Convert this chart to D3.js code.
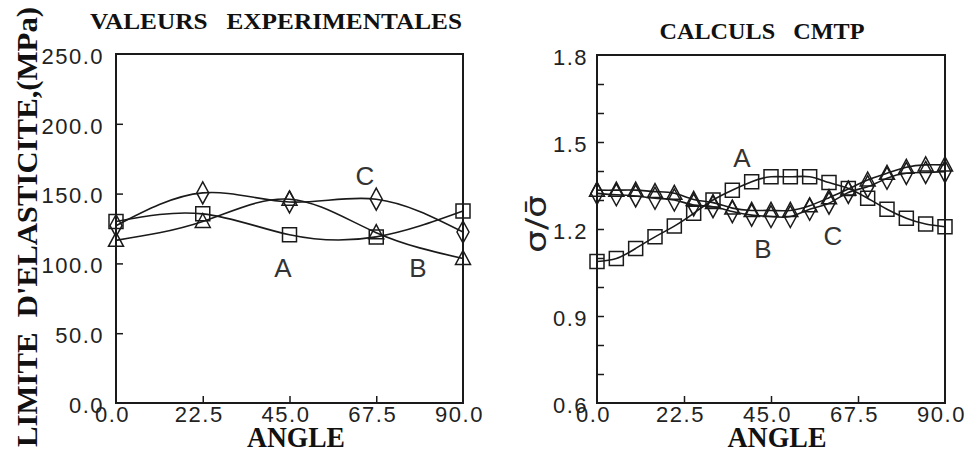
<!DOCTYPE html>
<html><head><meta charset="utf-8">
<script src="https://cdn.jsdelivr.net/npm/d3@7"></script>
<style>
html,body{margin:0;padding:0;background:#fff;}
svg{display:block;}
.tick text{font-family:"Liberation Sans",Arial,sans-serif;font-size:22px;letter-spacing:1.5px;fill:#222;}
.ttl{font-family:"Liberation Serif","Times New Roman",serif;font-weight:bold;fill:#111;white-space:pre;}
.lab{font-family:"Liberation Sans",Arial,sans-serif;font-size:26px;fill:#333;}
</style></head>
<body>
<svg id="c" width="972" height="454"></svg>
<script>
// ---- data ----
const angles5 = [0, 22.5, 45, 67.5, 90];
const expA = [130, 135.5, 120.5, 119, 137.5];   // squares
const expB = [116.5, 130, 146, 122, 103.5];     // triangles
const expC = [127, 150.5, 144, 146, 122.5];     // diamonds

const angles19 = [0,5,10,15,20,25,30,35,40,45,50,55,60,65,70,75,80,85,90];
const cmtpA = [1.088,1.098,1.133,1.173,1.210,1.254,1.300,1.334,1.363,1.380,1.380,1.380,1.360,1.340,1.306,1.268,1.237,1.217,1.208];
const cmtpB = [1.334,1.334,1.334,1.329,1.323,1.302,1.291,1.272,1.264,1.264,1.264,1.280,1.308,1.338,1.369,1.392,1.413,1.421,1.421];
const cmtpC = [1.323,1.318,1.314,1.306,1.300,1.283,1.277,1.260,1.248,1.243,1.243,1.268,1.289,1.326,1.346,1.375,1.392,1.395,1.398];

const xTickLabels = [0, 22.5, 45, 67.5, 90];
const xTickMarks = [22.5, 45, 67.5];
const yLeftLabels = [0, 50, 100, 150, 200, 250];
const yLeftMarks = [50, 100, 150, 200];
const yRightLabels = [0.6, 0.9, 1.2, 1.5, 1.8];
const yRightMarks = [0.7,0.8,0.9,1.0,1.1,1.2,1.3,1.4,1.5,1.6,1.7];

const svg = d3.select("#c");
const ink = "#1a1a1a";

function sym(type, cx, cy) {
  if (type === "square") { const h = 7; return `M${cx-h},${cy-h}h${2*h}v${2*h}h${-2*h}Z`; }
  if (type === "tri") { const w = 7.5, h = 7; return `M${cx},${cy-h-1}L${cx+w},${cy+h-1}L${cx-w},${cy+h-1}Z`; }
  const w = 6, h = 11; return `M${cx},${cy-h}L${cx+w},${cy}L${cx},${cy+h}L${cx-w},${cy}Z`;
}

function panel(cfg) {
  const g = svg.append("g");
  const x = d3.scaleLinear().domain([0, 90]).range(cfg.xr);
  const y = d3.scaleLinear().domain(cfg.yd).range(cfg.yr);
  // frame
  g.append("rect").attr("x", x(0)).attr("y", y(cfg.yd[1]))
    .attr("width", x(90) - x(0)).attr("height", y(cfg.yd[0]) - y(cfg.yd[1]))
    .attr("fill", "none").attr("stroke", ink).attr("stroke-width", 2);
  // inner ticks
  const tl = g.append("g").attr("transform", `translate(${x(0)},0)`)
    .call(d3.axisLeft(y).tickValues(cfg.yMarks).tickSize(-7).tickFormat(""));
  tl.select(".domain").remove();
  tl.selectAll("line").attr("stroke", ink).attr("stroke-width", 1.5);
  const tb = g.append("g").attr("transform", `translate(0,${y(cfg.yd[0])})`)
    .call(d3.axisBottom(x).tickValues(xTickMarks).tickSize(-7).tickFormat(""));
  tb.select(".domain").remove();
  tb.selectAll("line").attr("stroke", ink).attr("stroke-width", 1.5);
  // labels
  const ly = g.append("g").attr("transform", `translate(${x(0)},0)`)
    .call(d3.axisLeft(y).tickValues(cfg.yLabels).tickSize(0).tickPadding(cfg.yPad).tickFormat(d3.format(".1f")));
  ly.select(".domain").remove();
  ly.selectAll("text").attr("dy", "0.42em").style("font-family", null);
  ly.attr("font-family", null).attr("font-size", null);
  const lx = g.append("g").attr("transform", `translate(0,${y(cfg.yd[0])})`)
    .call(d3.axisBottom(x).tickValues(xTickLabels).tickSize(0).tickPadding(3).tickFormat(d3.format(".1f")));
  lx.select(".domain").remove();
  lx.selectAll("text").attr("dx", -4);
  lx.attr("font-family", null).attr("font-size", null);
  // series
  const line = d3.line().x((d, i) => x(cfg.ang[i])).y(d => y(d)).curve(d3.curveNatural);
  cfg.series.forEach(s => {
    g.append("path").attr("d", line(s.v)).attr("fill", "none")
      .attr("stroke", ink).attr("stroke-width", 1.6);
    g.append("g").selectAll("path").data(s.v).join("path")
      .attr("d", (d, i) => sym(s.type, x(cfg.ang[i]), y(d)))
      .attr("fill", "none").attr("stroke", ink).attr("stroke-width", 1.5);
  });
  return g;
}

panel({ xr: [116, 463], yd: [0, 250], yr: [403, 54], yMarks: yLeftMarks, yLabels: yLeftLabels, yPad: 12,
  ang: angles5,
  series: [{ v: expA, type: "square" }, { v: expB, type: "tri" }, { v: expC, type: "diamond" }] });
panel({ xr: [597, 945], yd: [0.6, 1.8], yr: [403, 55], yMarks: yRightMarks, yLabels: yRightLabels, yPad: 9,
  ang: angles19,
  series: [{ v: cmtpA, type: "square" }, { v: cmtpB, type: "tri" }, { v: cmtpC, type: "diamond" }] });

// titles
svg.append("text").attr("class", "ttl").attr("x", 276).attr("y", 29).attr("text-anchor", "middle")
  .attr("font-size", 24).attr("textLength", 372).attr("lengthAdjust", "spacingAndGlyphs")
  .text("VALEURS   EXPERIMENTALES");
svg.append("text").attr("class", "ttl").attr("x", 762).attr("y", 39).attr("text-anchor", "middle")
  .attr("font-size", 24).attr("textLength", 205).attr("lengthAdjust", "spacingAndGlyphs")
  .text("CALCULS   CMTP");
svg.append("text").attr("class", "ttl").attr("x", 296).attr("y", 447).attr("text-anchor", "middle")
  .attr("font-size", 29).attr("textLength", 98).attr("lengthAdjust", "spacingAndGlyphs").text("ANGLE");
svg.append("text").attr("class", "ttl").attr("x", 777).attr("y", 447).attr("text-anchor", "middle")
  .attr("font-size", 29).attr("textLength", 99).attr("lengthAdjust", "spacingAndGlyphs").text("ANGLE");
svg.append("text").attr("class", "ttl").attr("transform", "translate(37,227) rotate(-90)")
  .attr("text-anchor", "middle").attr("font-size", 30).attr("textLength", 440).attr("lengthAdjust", "spacingAndGlyphs")
  .text("LIMITE  D'ELASTICITE,(MPa)");
svg.append("text").attr("transform", "translate(546,224) rotate(-90)").attr("text-anchor", "middle")
  .attr("font-family", "'DejaVu Sans',sans-serif").attr("font-size", 28).attr("fill", "#222")
  .attr("textLength", 58).attr("lengthAdjust", "spacingAndGlyphs")
  .text("\u03C3/\u03C3\u0304");

// curve labels
const labs = [
  { t: "A", x: 283, y: 277 }, { t: "B", x: 418, y: 277 }, { t: "C", x: 365, y: 185 },
  { t: "A", x: 742, y: 167 }, { t: "B", x: 763, y: 258 }, { t: "C", x: 833, y: 245 }
];
svg.selectAll("text.lab").data(labs).join("text").attr("class", "lab")
  .attr("x", d => d.x).attr("y", d => d.y).attr("text-anchor", "middle").text(d => d.t);
</script>
</body></html>
